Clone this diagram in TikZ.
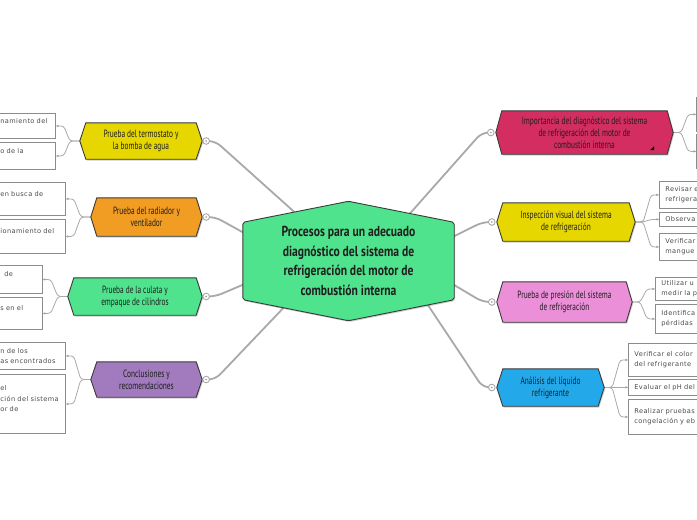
\documentclass[tikz,border=0pt]{standalone}
\usepackage{fontspec}
\usetikzlibrary{backgrounds,calc}
\newfontfamily\rootfont[FakeStretch=0.8]{PT Sans}
\newfontfamily\condfont[FakeStretch=0.7]{PT Sans}
\newfontfamily\leaffont[LetterSpace=6]{DejaVu Sans}
\definecolor{cyellow}{HTML}{E6D700}
\definecolor{corange}{HTML}{F19C22}
\definecolor{cgreen}{HTML}{4FE38D}
\definecolor{cpurple}{HTML}{A17BBD}
\definecolor{ccrimson}{HTML}{D42D62}
\definecolor{cpink}{HTML}{EC8FD9}
\definecolor{cblue}{HTML}{23A9EA}
\definecolor{conn}{HTML}{A9A9A9}
\definecolor{hexborder}{HTML}{3A3A3A}
\definecolor{leafborder}{HTML}{8C8C8C}
\definecolor{leaftxt}{HTML}{4A4A4A}
\definecolor{txt}{HTML}{1E1E1E}
\newcommand\hexpath[2]{(#1.west) -- ([xshift=#2]#1.north west) -- ([xshift=-#2]#1.north east) -- (#1.east) -- ([xshift=-#2]#1.south east) -- ([xshift=#2]#1.south west) -- cycle}
\newcommand\roothex{(root.north) -- ([yshift=-21pt]root.north east) -- ([yshift=21pt]root.south east) -- (root.south) -- ([yshift=21pt]root.south west) -- ([yshift=-21pt]root.north west) -- cycle}
\tikzset{
  roottext/.style={inner sep=0pt, align=center, text=txt, minimum width=211pt, minimum height=119pt,
    font=\rootfont\bfseries\fontsize{14.5}{19.5}\selectfont},
  btext/.style={inner sep=0pt, align=center, text=txt, font=\condfont\fontsize{10.5}{12}\selectfont},
  leafL/.style={draw=leafborder, fill=white, line width=0.8pt, inner xsep=5pt, inner ysep=0pt, align=left,
    anchor=north west, font=\leaffont\fontsize{6.6}{10.5}\selectfont, text=leaftxt},
  leafR/.style={leafL, inner xsep=6pt},
  hexshape/.style={draw=hexborder, line width=0.9pt},
  mainline/.style={draw=conn, line width=1.8pt, rounded corners=7pt},
  leafline/.style={draw=conn, line width=0.8pt, rounded corners=3pt},
  knob/.style={draw=conn, fill=white, line width=0.9pt},
}
\begin{document}
\begin{tikzpicture}[x=1pt,y=-1pt]
\useasboundingbox (0,0) rectangle (697,520);

% central topic
\node[roottext] (root) at (348.5,261) {Procesos para un adecuado\\diagnóstico del sistema de\\refrigeración del motor de\\combustión interna};

% main branches
\node[btext, minimum width=122pt, minimum height=36pt] (t1) at (141,141) {Prueba del termostato y\\la bomba de agua};
\node[btext, minimum width=111pt, minimum height=38pt] (t2) at (146.5,217) {Prueba del radiador y\\ventilador};
\node[btext, minimum width=134pt, minimum height=37pt] (t3) at (135,296.5) {Prueba de la culata y\\empaque de cilindros};
\node[btext, minimum width=111pt, minimum height=35pt] (t4) at (146.5,379.5) {Conclusiones y\\recomendaciones};
\node[btext, minimum width=177pt, minimum height=43pt] (r1) at (584.5,132.5) {Importancia del diagnóstico del sistema\\de refrigeración del motor de\\combustión interna};
\node[btext, minimum width=138pt, minimum height=38pt] (r2) at (566,222) {Inspección visual del sistema\\de refrigeración};
\node[btext, minimum width=135pt, minimum height=40pt] (r3) at (564.5,302) {Prueba de presión del sistema\\de refrigeración};
\node[btext, minimum width=107pt, minimum height=37pt] (r4) at (550.5,387.5) {Análisis del líquido\\refrigerante};

% knobs
\coordinate (k1) at ($(t1.east)+(4,0)$);
\coordinate (k2) at ($(t2.east)+(4,0)$);
\coordinate (k3) at ($(t3.east)+(4,0)$);
\coordinate (k4) at ($(t4.east)+(4,0)$);
\coordinate (k5) at ($(r1.west)+(-5,0)$);
\coordinate (k6) at ($(r2.west)+(-5,0)$);
\coordinate (k7) at ($(r3.west)+(-5,0)$);
\coordinate (k8) at ($(r4.west)+(-5,0)$);

% leaves, left
\node[leafL, minimum width=60pt, minimum height=25pt, text width=50pt] (a1) at (-5,113) {namiento del\\\mbox{}};
\node[leafL, minimum width=60pt, minimum height=27pt, text width=50pt] (a2) at (-5,142) {o de la\\\mbox{}};
\node[leafL, minimum width=70pt, minimum height=33pt, text width=60pt] (b1) at (-5,182) {en busca de\\\mbox{}};
\node[leafL, minimum width=70pt, minimum height=34pt, text width=60pt] (b2) at (-5,219) {ionamiento del\\\mbox{}};
\node[leafL, minimum width=47pt, minimum height=28pt, text width=37pt] (c1) at (-5,265) {\hspace*{4pt}de\\\mbox{}};
\node[leafL, minimum width=47pt, minimum height=32pt, text width=37pt] (c2) at (-5,297) {s en el\\\mbox{}};
\node[leafL, minimum width=70pt, minimum height=27pt, text width=60pt] (d1) at (-5,342) {n de los\\as encontrados};
\node[leafL, minimum width=70pt, minimum height=59pt, text width=60pt] (d2) at (-5,374) {el\\ción del sistema\\or de\\\mbox{}};

% leaves, right
\node[leafR, minimum width=30pt, minimum height=34pt, text width=18pt] (e1) at (696,97) {};
\node[leafR, minimum width=30pt, minimum height=34pt, text width=18pt] (e2) at (696,134) {};
\node[leafR, minimum width=60pt, minimum height=27pt, text width=48pt] (f1) at (659,181) {Revisar e\\refrigera};
\node[leafR, minimum width=60pt, minimum height=14pt, text width=48pt] (f2) at (659,212) {Observa};
\node[leafR, minimum width=60pt, minimum height=27pt, text width=48pt] (f3) at (659,233) {Verificar\\mangue};
\node[leafR, minimum width=60pt, minimum height=23pt, text width=48pt] (g1) at (655,277) {Utilizar u\\medir la p};
\node[leafR, minimum width=60pt, minimum height=29pt, text width=48pt] (g2) at (655,304) {Identifica\\pérdidas};
\node[leafR, minimum width=80pt, minimum height=33pt, text width=68pt] (h1) at (628,343) {Verificar el color\\del refrigerante};
\node[leafR, minimum width=80pt, minimum height=16pt, text width=68pt] (h2) at (628,379) {Evaluar el pH del};
\node[leafR, minimum width=80pt, minimum height=35pt, text width=68pt] (h3) at (628,399) {Realizar pruebas\\congelación y eb};

\begin{pgfonlayer}{background}
  \fill[white] (0,0) rectangle (697,520);
  % main connectors
  \draw[mainline] (k1) -- ++(9,0) -- ($(root.center)+(-28.5,-26)$);
  \draw[mainline] (k2) -- ++(9,0) -- ($(root.center)+(-28.5,14)$);
  \draw[mainline] (k3) -- ++(9,0) -- ($(root.center)+(-28.5,-9)$);
  \draw[mainline] (k4) -- ++(9,0) -- ($(root.center)+(-38.5,19)$);
  \draw[mainline] (k5) -- ++(-9,0) -- ($(root.center)+(41.5,-25)$);
  \draw[mainline] (k6) -- ++(-9,0) -- ($(root.center)+(41.5,7)$);
  \draw[mainline] (k7) -- ++(-9,0) -- ($(root.center)+(41.5,-14)$);
  \draw[mainline] (k8) -- ++(-9,0) -- ($(root.center)+(41.5,-13)$);
  % leaf connectors, left
  \foreach \p/\l in {t1/a1,t1/a2,t2/b1,t2/b2,t3/c1,t3/c2,t4/d1,t4/d2} {
    \draw[leafline] (\p.west) -- ++(-10,0) -- ($(\l.east)+(8,0)$) -- (\l.east);
  }
  % leaf connectors, right
  \foreach \p/\l in {r1/e1,r1/e2,r2/f1,r2/f2,r2/f3,r3/g1,r3/g2,r4/h1,r4/h2,r4/h3} {
    \draw[leafline] (\p.east) -- ++(8,0) -- ($(\l.west)+(-8,0)$) -- (\l.west);
  }
  % branch shapes
  \foreach \n/\c in {t1/cyellow,t2/corange,t3/cgreen,t4/cpurple,r1/ccrimson,r2/cyellow,r3/cpink,r4/cblue} {
    \fill[black, opacity=0.2, transform canvas={shift={(1pt,-1.3pt)}}] \hexpath{\n}{6pt};
    \draw[hexshape, fill=\c] \hexpath{\n}{6pt};
  }
  % central shape
  \fill[black, opacity=0.2, rounded corners=2pt, transform canvas={shift={(1pt,-1.3pt)}}] \roothex;
  \draw[hexshape, fill=cgreen, rounded corners=2pt] \roothex;
\end{pgfonlayer}

% leaf dots
\foreach \l in {a1,a2,b1,b2,c1,c2,d1,d2} { \fill[conn] ($(\l.east)+(2,0)$) circle (1.2pt); }
\foreach \l in {e1,e2,f1,f2,f3,g1,g2,h1,h2,h3} { \fill[conn] ($(\l.west)+(-2,0)$) circle (1.2pt); }

% knobs
\foreach \k in {k1,k2,k3,k4,k5,k6,k7,k8} {
  \draw[knob] (\k) circle (3.3pt);
  \fill[conn] (\k) circle (1pt);
}

% note marker
\fill[black] ($(r1.south east)+(-19,-8)$) -- ($(r1.south east)+(-19,-4)$) -- ($(r1.south east)+(-23,-4)$) -- cycle;
\end{tikzpicture}
\end{document}
